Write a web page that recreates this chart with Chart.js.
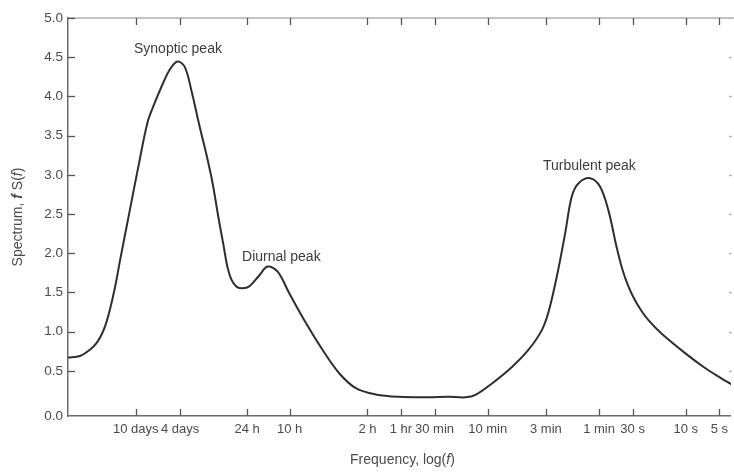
<!DOCTYPE html>
<html>
<head>
<meta charset="utf-8">
<script src="https://cdn.jsdelivr.net/npm/chart.js@4.4.1/dist/chart.umd.min.js"></script>
<style>
  body { margin: 0; background: #fff; }
  canvas { display: block; }
</style>
</head>
<body>
<canvas id="spectrum" width="734" height="473"></canvas>
<script>
// x values are log10 of frequency in Hz
const logFreq = [
  -6.545, -6.438, -6.348, -6.286, -6.241, -6.205, -6.169, -6.124, -6.071, -5.990,
  -5.910, -5.829, -5.766, -5.704, -5.632, -5.563, -5.498, -5.438, -5.364, -5.301,
  -5.248, -5.194, -5.149, -5.113, -5.077, -5.033, -4.979, -4.916, -4.827, -4.753,
  -4.663, -4.559, -4.409, -4.261, -4.111, -3.962, -3.783, -3.574, -3.306, -3.127,
  -2.977, -2.888, -2.739, -2.560, -2.411, -2.292, -2.232, -2.158, -2.083, -2.024,
  -1.964, -1.859, -1.770, -1.695, -1.621, -1.570, -1.516, -1.463, -1.400, -1.337,
  -1.221, -1.009, -0.830, -0.681, -0.592
];
const spectrum = [
  0.67, 0.69, 0.77, 0.86, 0.97, 1.10, 1.28, 1.56, 1.96, 2.55,
  3.13, 3.68, 3.92, 4.13, 4.34, 4.444, 4.38, 4.08, 3.62, 3.25,
  2.90, 2.45, 2.10, 1.82, 1.66, 1.575, 1.553, 1.58, 1.72, 1.83,
  1.765, 1.49, 1.11, 0.77, 0.47, 0.28, 0.20, 0.17, 0.165, 0.17,
  0.163, 0.193, 0.34, 0.55, 0.77, 1.02, 1.25, 1.70, 2.25, 2.72,
  2.89, 2.957, 2.85, 2.55, 2.08, 1.80, 1.58, 1.42, 1.27, 1.15,
  0.98, 0.73, 0.54, 0.406, 0.33
];

// x tick marks: periods in seconds and their labels
const tickPeriods = [864000, 345600, 86400, 36000, 7200, 3600, 1800, 600, 180, 60, 30, 10, 5];
const tickLabels = ['10 days', '4 days', '24 h', '10 h', '2 h', '1 hr', '30 min', '10 min', '3 min', '1 min', '30 s', '10 s', '5 s'];
const yTicks = [0, 0.5, 1, 1.5, 2, 2.5, 3, 3.5, 4, 4.5, 5];

// peak labels, anchored in data coordinates
const peakNames = ['Synoptic peak', 'Diurnal peak', 'Turbulent peak'];
const peakLogFreq = [-5.558, -4.630, -1.865];
const peakLabelValue = [4.606, 1.957, 3.117];

const FONT = "'Liberation Sans', Arial, Helvetica, sans-serif";
const TEXT = '#4a4a4a';
const AXIS = '#6b6b6b';

Chart.defaults.font.family = FONT;
Chart.defaults.color = TEXT;

// draw a line of text made of several styled parts, centred on (cx, cy)
function drawParts(ctx, parts, cx, cy) {
  let total = 0;
  parts.forEach(p => { ctx.font = p[1]; total += ctx.measureText(p[0]).width; });
  let x = cx - total / 2;
  ctx.textAlign = 'left';
  ctx.textBaseline = 'middle';
  parts.forEach(p => {
    ctx.font = p[1];
    ctx.fillText(p[0], x, cy);
    x += ctx.measureText(p[0]).width;
  });
}

const framePlugin = {
  id: 'frame',
  afterDraw(chart) {
    const { ctx, chartArea: a, scales: { x, y } } = chart;
    ctx.save();

    // top border
    ctx.strokeStyle = '#8a8a8a';
    ctx.lineWidth = 1.2;
    ctx.beginPath();
    ctx.moveTo(a.left, a.top);
    ctx.lineTo(chart.width, a.top);
    ctx.stroke();

    // inward tick marks, bottom and top
    ctx.strokeStyle = '#555';
    ctx.lineWidth = 1.3;
    x.ticks.forEach(t => {
      const px = Math.round(x.getPixelForValue(t.value)) + 0.5;
      ctx.beginPath();
      ctx.moveTo(px, a.bottom);
      ctx.lineTo(px, a.bottom - 7);
      ctx.moveTo(px, a.top);
      ctx.lineTo(px, a.top + 7);
      ctx.stroke();
    });

    // inward tick marks, left, and faint ones on the right edge
    y.ticks.forEach((t, i) => {
      if (i === 0) return;
      const py = Math.round(y.getPixelForValue(t.value)) + 0.5;
      ctx.strokeStyle = '#555';
      ctx.beginPath();
      ctx.moveTo(a.left, py);
      ctx.lineTo(a.left + 7, py);
      ctx.stroke();
      ctx.strokeStyle = '#b5b5b5';
      ctx.beginPath();
      ctx.moveTo(a.right + 1, py);
      ctx.lineTo(a.right - 2, py);
      ctx.stroke();
    });

    // peak labels
    ctx.fillStyle = '#3c3c3c';
    ctx.font = '14px ' + FONT;
    ctx.textAlign = 'center';
    ctx.textBaseline = 'middle';
    peakNames.forEach((name, i) => {
      ctx.fillText(name, x.getPixelForValue(peakLogFreq[i]), y.getPixelForValue(peakLabelValue[i]));
    });

    // axis titles
    ctx.fillStyle = TEXT;
    const normal = '14px ' + FONT;
    const ital = 'italic 14px ' + FONT;
    drawParts(ctx, [['Frequency, log(', normal], ['f', ital], [')', normal]],
      (a.left + a.right) / 2 + 3, 460);

    ctx.translate(18, (a.top + a.bottom) / 2);
    ctx.rotate(-Math.PI / 2);
    drawParts(ctx, [['Spectrum, ', normal], ['f', 'italic bold 14px ' + FONT], [' S(', normal], ['f', ital], [')', normal]], 0, 0);

    ctx.restore();
  }
};

new Chart(document.getElementById('spectrum'), {
  type: 'line',
  data: {
    datasets: [{
      data: logFreq.map((v, i) => ({ x: v, y: spectrum[i] })),
      borderColor: '#2e2e2e',
      borderWidth: 2,
      pointRadius: 0,
      tension: 0.35,
      fill: false
    }]
  },
  options: {
    responsive: false,
    animation: false,
    layout: { padding: { top: 18, right: 1, left: 0, bottom: 0 } },
    plugins: { legend: { display: false }, tooltip: { enabled: false } },
    scales: {
      x: {
        type: 'linear',
        min: -6.545,
        max: -0.595,
        afterBuildTicks: scale => {
          scale.ticks = tickPeriods.map(p => ({ value: -Math.log10(p) }));
        },
        afterFit: scale => { scale.height = 57; },
        ticks: {
          autoSkip: false,
          maxRotation: 0,
          padding: 6,
          color: TEXT,
          font: { size: 13 },
          callback: (v, i) => tickLabels[i]
        },
        grid: { display: false, drawTicks: false },
        border: { display: true, color: AXIS, width: 1.5 }
      },
      y: {
        min: -0.075,
        max: 5,
        // the 0.0 label sits on the axis line, a little below the true zero
        afterBuildTicks: scale => {
          scale.ticks = yTicks.map(v => ({ value: v === 0 ? scale.min : v }));
        },
        afterFit: scale => { scale.width = 68; },
        ticks: {
          padding: 5,
          color: TEXT,
          font: { size: 13.5 },
          callback: (v, i) => yTicks[i].toFixed(1)
        },
        grid: { display: false, drawTicks: false },
        border: { display: true, color: AXIS, width: 1.5 }
      }
    }
  },
  plugins: [framePlugin]
});
</script>
</body>
</html>
